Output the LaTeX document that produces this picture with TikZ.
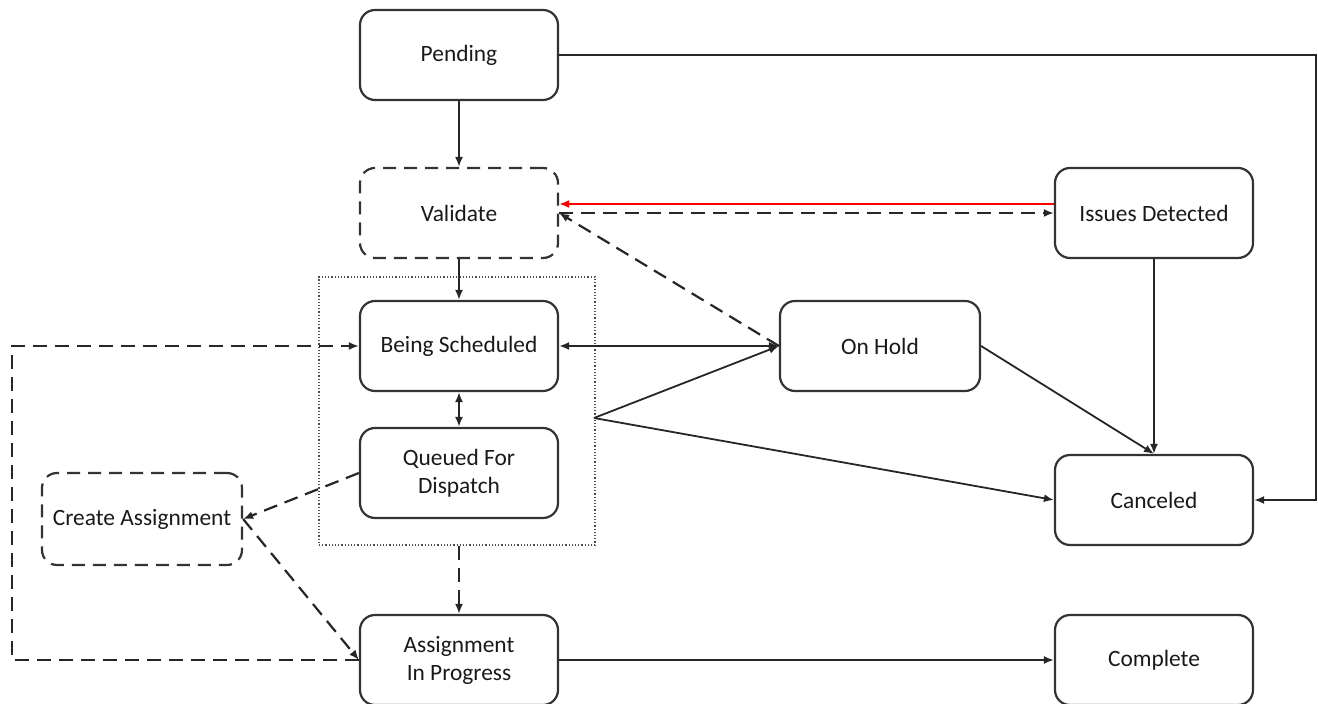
\documentclass[tikz,border=0pt]{standalone}
\usepackage{fontspec}
\setmainfont{Carlito}
\usepackage{tikz}
\usetikzlibrary{arrows.meta,calc,positioning}

\begin{document}
\begin{tikzpicture}[x=0.5pt, y=-0.5pt,
  state/.style={draw=black!80, line width=1.1pt, rounded corners=7.5pt, minimum width=99pt, minimum height=45pt, align=center, font=\fontsize{11.7}{14}\selectfont, text=black!90},
  tmpstate/.style={state, dash pattern=on 6.5pt off 4pt},
  arr/.style={draw=black!85, line width=0.9pt, -{Latex[length=5pt,width=4pt]}},
  dsh/.style={arr, line width=1.1pt, dash pattern=on 7pt off 4pt}]
\useasboundingbox (0,0) rectangle (1318,704);
% --- gruppo tratteggiato ---
\node[draw=black!70, densely dotted, line width=0.6pt, minimum width=138pt, minimum height=134pt] (grp) at (457,411) {};
% --- stati ---
\node[state] (pend) at (459,55) {Pending};
\node[tmpstate] (valid) at (459,213) {Validate};
\node[state] (sched) at (459,346) {Being Scheduled};
\node[state] (queued) at (459,473) {Queued For\\Dispatch};
\node[tmpstate, minimum width=100pt, minimum height=46pt] (create) at (142,519) {Create Assignment};
\node[state] (inprog) at (459,660) {Assignment\\In Progress};
\node[state, minimum width=100pt] (hold) at (880,346) {On Hold};
\node[state] (issues) at (1154,213) {Issues Detected};
\node[state] (cancel) at (1154,500) {Canceled};
\node[state] (compl) at (1154,660) {Complete};
\coordinate (rt) at (1316,55);
\coordinate (lp) at (12,660);
\coordinate (fan) at (594,418);
% --- transizioni ---
\draw[arr] (pend) -- (valid);
\draw[arr] (pend.east) -- (rt) |- (cancel.east);
\draw[arr] (valid) -- (sched);
\draw[arr, draw=red, line width=1.3pt, {Latex[length=5pt,width=4pt]}-] ([yshift=4.5pt]valid.east) -- ([yshift=4.5pt]issues.west);
\draw[dsh] (valid.east) -- (issues.west);
\draw[dsh] (hold.west) -- (valid.east);
\draw[arr, {Latex[length=5pt,width=4pt]}-{Latex[length=5pt,width=4pt]}] (sched) -- (hold);
\draw[arr, {Latex[length=5pt,width=4pt]}-{Latex[length=5pt,width=4pt]}] (sched) -- (queued);
\draw[arr] (fan) -- (hold.west);
\draw[arr] (fan) -- (cancel.west);
\draw[arr] (hold.east) -- (cancel.north);
\draw[arr] (issues) -- (cancel);
\draw[dsh] (queued.west) -- (create.east);
\draw[dsh] (create.east) -- (inprog.west);
\draw[dsh] (grp.south -| inprog.north) -- (inprog.north);
\draw[dsh] (inprog.west) -- (lp) |- (sched.west);
\draw[arr] (inprog) -- (compl);
\end{tikzpicture}
\end{document}
